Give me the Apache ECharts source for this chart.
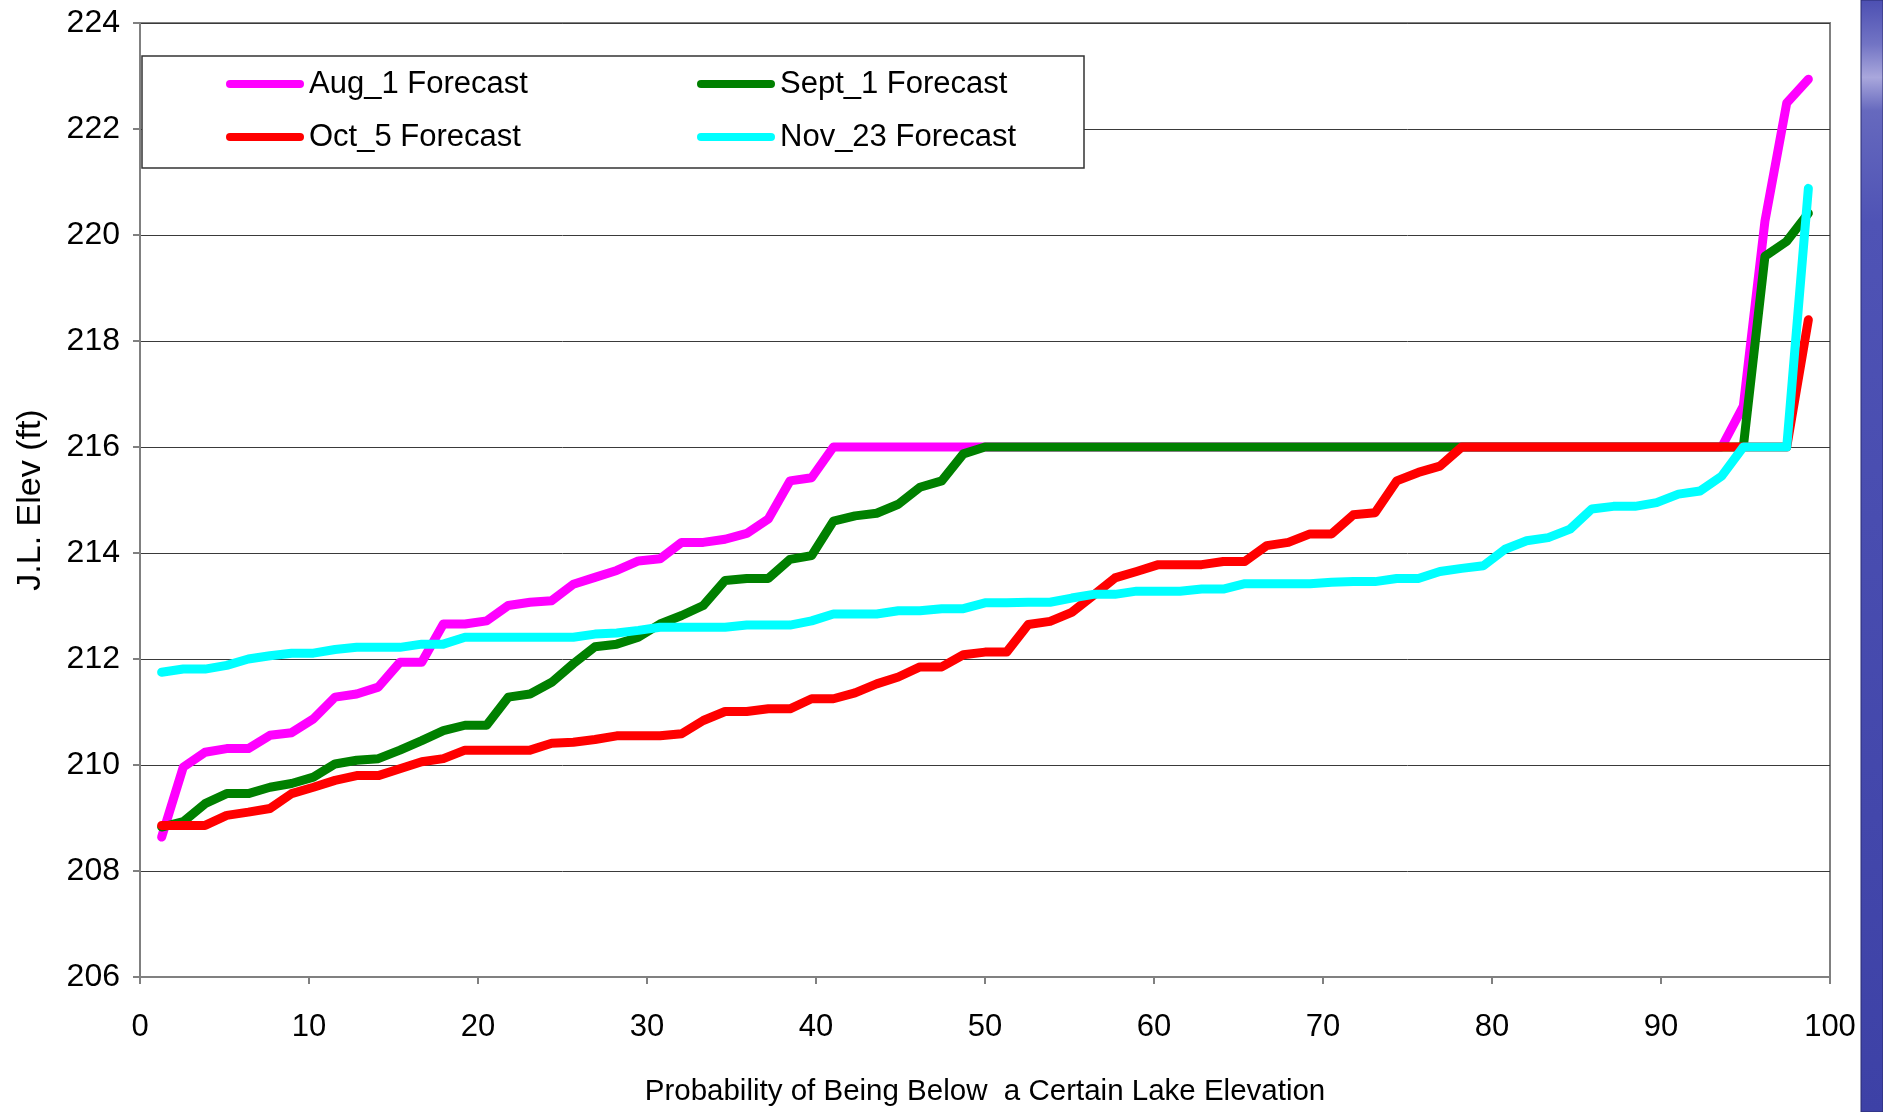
<!DOCTYPE html>
<html>
<head>
<meta charset="utf-8">
<script src="https://cdn.jsdelivr.net/npm/echarts@6/dist/echarts.min.js"></script>
<style>
  html, body { margin: 0; padding: 0; background: #fff; }
  #chart { width: 1883px; height: 1112px; }
</style>
</head>
<body>
<div id="chart"></div>
<script>
// probability of being below (%), one per ranked trace
const probability = [
  1.28, 2.56, 3.85, 5.13, 6.41, 7.69, 8.97, 10.26, 11.54, 12.82,
  14.10, 15.38, 16.67, 17.95, 19.23, 20.51, 21.79, 23.08, 24.36, 25.64,
  26.92, 28.21, 29.49, 30.77, 32.05, 33.33, 34.62, 35.90, 37.18, 38.46,
  39.74, 41.03, 42.31, 43.59, 44.87, 46.15, 47.44, 48.72, 50.00, 51.28,
  52.56, 53.85, 55.13, 56.41, 57.69, 58.97, 60.26, 61.54, 62.82, 64.10,
  65.38, 66.67, 67.95, 69.23, 70.51, 71.79, 73.08, 74.36, 75.64, 76.92,
  78.21, 79.49, 80.77, 82.05, 83.33, 84.62, 85.90, 87.18, 88.46, 89.74,
  91.03, 92.31, 93.59, 94.87, 96.15, 97.44, 98.72
]

const aug1 = [
  208.64, 209.96, 210.24, 210.31, 210.31, 210.56, 210.61, 210.87, 211.28, 211.34,
  211.47, 211.94, 211.94, 212.66, 212.66, 212.72, 213.01, 213.07, 213.10, 213.41,
  213.54, 213.67, 213.85, 213.89, 214.20, 214.20, 214.26, 214.37, 214.64, 215.36,
  215.42, 216, 216, 216, 216, 216, 216, 216, 216, 216,
  216, 216, 216, 216, 216, 216, 216, 216, 216, 216,
  216, 216, 216, 216, 216, 216, 216, 216, 216, 216,
  216, 216, 216, 216, 216, 216, 216, 216, 216, 216,
  216, 216, 216, 216.77, 220.26, 222.49, 222.94
]

const sept1 = [
  208.83, 208.93, 209.27, 209.46, 209.46, 209.58, 209.65, 209.77, 210.02, 210.09,
  210.12, 210.28, 210.46, 210.65, 210.75, 210.75, 211.28, 211.34, 211.56, 211.91,
  212.23, 212.28, 212.41, 212.66, 212.82, 213.01, 213.48, 213.52, 213.52, 213.88,
  213.95, 214.60, 214.70, 214.75, 214.92, 215.24, 215.36, 215.87, 216, 216,
  216, 216, 216, 216, 216, 216, 216, 216, 216, 216,
  216, 216, 216, 216, 216, 216, 216, 216, 216, 216,
  216, 216, 216, 216, 216, 216, 216, 216, 216, 216,
  216, 216, 216, 216, 219.60, 219.88, 220.41
]

const oct5 = [
  208.86, 208.86, 208.86, 209.05, 209.11, 209.18, 209.46, 209.58, 209.71, 209.80,
  209.80, 209.93, 210.06, 210.12, 210.28, 210.28, 210.28, 210.28, 210.41, 210.43,
  210.48, 210.55, 210.55, 210.55, 210.59, 210.84, 211.01, 211.01, 211.06, 211.06,
  211.25, 211.25, 211.36, 211.53, 211.66, 211.85, 211.85, 212.08, 212.13, 212.13,
  212.65, 212.71, 212.88, 213.20, 213.53, 213.65, 213.78, 213.78, 213.78, 213.84,
  213.84, 214.14, 214.20, 214.36, 214.36, 214.72, 214.76, 215.36, 215.52, 215.64,
  216, 216, 216, 216, 216, 216, 216, 216, 216, 216,
  216, 216, 216, 216, 216, 216, 218.40
]

const nov23 = [
  211.75, 211.81, 211.81, 211.88, 212.00, 212.06, 212.11, 212.11, 212.18, 212.22,
  212.22, 212.22, 212.28, 212.28, 212.41, 212.41, 212.41, 212.41, 212.41, 212.41,
  212.47, 212.49, 212.54, 212.60, 212.60, 212.60, 212.60, 212.64, 212.64, 212.64,
  212.72, 212.85, 212.85, 212.85, 212.91, 212.91, 212.95, 212.95, 213.06, 213.06,
  213.07, 213.07, 213.15, 213.22, 213.22, 213.28, 213.28, 213.28, 213.32, 213.32,
  213.42, 213.42, 213.42, 213.42, 213.45, 213.46, 213.46, 213.52, 213.52, 213.65,
  213.71, 213.76, 214.07, 214.23, 214.29, 214.45, 214.83, 214.88, 214.88, 214.95,
  215.11, 215.17, 215.45, 216, 216, 216, 220.88
]

const seriesNames = ['Aug_1 Forecast', 'Sept_1 Forecast', 'Oct_5 Forecast', 'Nov_23 Forecast']
const seriesColors = ['#ff00ff', '#008000', '#ff0000', '#00ffff']
const seriesValues = [aug1, sept1, oct5, nov23]

const font = "'Liberation Sans', Arial, sans-serif"

// pill shaped legend marker like the thick excel line
const pill = 'path://M4,0 L74,0 A4,4 0 0 1 74,8 L4,8 A4,4 0 0 1 4,0 Z'

function legendRow(names, top) {
  return {
    data: names,
    left: 221,
    top: top,
    orient: 'horizontal',
    icon: pill,
    itemWidth: 78,
    itemHeight: 9,
    itemGap: 0,
    z: 10,
    selectedMode: false,
    textStyle: {
      fontFamily: font,
      fontSize: 31,
      color: '#000',
      width: 388,
      lineHeight: 40
    }
  }
}

let myChart = echarts.init(document.getElementById('chart'), null, { renderer: 'canvas' })

const option = {
  animation: false,
  backgroundColor: '#fff',
  grid: {
    left: 140, right: 53, top: 23, bottom: 129,
    show: true,
    borderColor: '#808080',
    borderWidth: 2
  },
  legend: [
    legendRow(['Aug_1 Forecast', 'Sept_1 Forecast'], 59),
    legendRow(['Oct_5 Forecast', 'Nov_23 Forecast'], 112)
  ],
  xAxis: {
    type: 'value',
    min: 0, max: 100, interval: 10,
    name: 'Probability of Being Below  a Certain Lake Elevation',
    nameLocation: 'middle',
    nameGap: 100,
    nameTextStyle: { fontFamily: font, fontSize: 29.5, color: '#000' },
    axisLine: { show: true, lineStyle: { color: '#808080', width: 2 } },
    axisTick: { show: true, length: 7, lineStyle: { color: '#808080', width: 2 } },
    axisLabel: { margin: 35, fontFamily: font, fontSize: 31, color: '#000' },
    splitLine: { show: false }
  },
  yAxis: {
    type: 'value',
    min: 206, max: 224, interval: 2,
    name: 'J.L. Elev (ft)',
    nameLocation: 'middle',
    nameGap: 92,
    nameTextStyle: { fontFamily: font, fontSize: 34, color: '#000' },
    axisLine: { show: true, lineStyle: { color: '#808080', width: 2 } },
    axisTick: { show: true, length: 7, lineStyle: { color: '#808080', width: 2 } },
    axisLabel: { margin: 20, fontFamily: font, fontSize: 32, color: '#000' },
    splitLine: { show: true, lineStyle: { color: '#3a3a3a', width: 1 } }
  },
  graphic: [
    {
      // legend frame
      type: 'rect',
      z: 5,
      shape: { x: 142, y: 56, width: 942, height: 112 },
      style: { fill: '#fff', stroke: '#333', lineWidth: 1.5 }
    },
    {
      // slide background strip on the right
      type: 'rect',
      z: 5,
      shape: { x: 1861, y: 0, width: 22, height: 1112 },
      style: {
        fill: new echarts.graphic.LinearGradient(0, 0, 0, 1, [
          { offset: 0, color: '#4c4fb2' },
          { offset: 0.04, color: '#7274c4' },
          { offset: 0.07, color: '#a9a7dc' },
          { offset: 0.1, color: '#6669be' },
          { offset: 0.2, color: '#4f53b5' },
          { offset: 1, color: '#3d41a6' }
        ]),
        stroke: '#2a2c70',
        lineWidth: 1
      }
    }
  ],
  series: seriesNames.map(function (name, k) {
    return {
      name: name,
      type: 'line',
      showSymbol: false,
      color: seriesColors[k],
      lineStyle: { width: 9, color: seriesColors[k], cap: 'round', join: 'round' },
      data: probability.map(function (p, i) { return [p, seriesValues[k][i]] })
    }
  })
}

myChart.setOption(option)
</script>
</body>
</html>
